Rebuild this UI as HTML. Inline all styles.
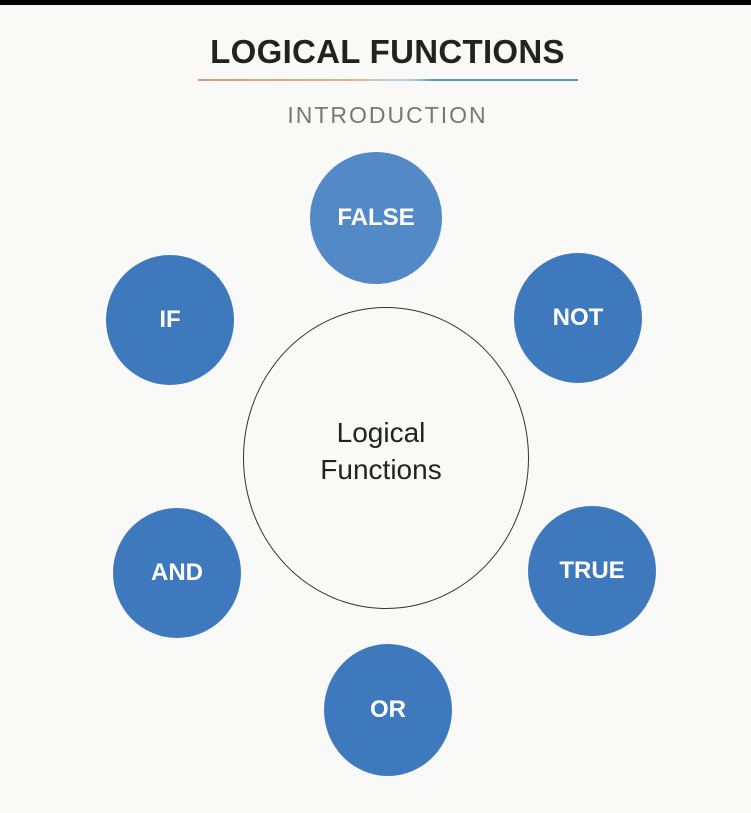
<!DOCTYPE html>
<html><head><style>
body{margin:0;width:751px;height:813px;background:#f9f9f8;overflow:hidden;position:relative;font-family:"Liberation Sans",sans-serif}
.bar{position:absolute;left:0;top:0;width:751px;height:5px;background:#000}
.t{position:absolute;left:0;width:775px;text-align:center}
.c{position:absolute;border-radius:50%;background:#3f79bd;color:#fff;font-weight:bold;font-size:24px;display:flex;align-items:center;justify-content:center}
</style></head><body>
<div class="bar"></div>
<div class="t" style="top:33px;font-size:33px;font-weight:bold;color:#222;letter-spacing:0.3px;">LOGICAL FUNCTIONS</div>
<div style="position:absolute;left:198px;top:79px;width:380px;height:2px;background:linear-gradient(90deg,#d99a7a 0%,#e8b088 40%,#b5cfe0 50%,#b5cfe0 56%,#5b92bf 62%,#5b92bf 100%)"></div>
<div class="t" style="top:102px;font-size:23px;color:#777;letter-spacing:2px;">INTRODUCTION</div>
<div style="position:absolute;left:243px;top:307px;width:286px;height:302px;border:1px solid #333;border-radius:50%;box-sizing:border-box"></div>
<div style="position:absolute;left:231px;top:414px;width:300px;text-align:center;font-size:28px;line-height:37px;color:#222">Logical<br>Functions</div>
<div class="c" style="left:310px;top:152px;width:132px;height:132px;background:#5389c6">FALSE</div>
<div class="c" style="left:514px;top:253px;width:128px;height:130px">NOT</div>
<div class="c" style="left:106px;top:255px;width:128px;height:130px">IF</div>
<div class="c" style="left:113px;top:508px;width:128px;height:130px">AND</div>
<div class="c" style="left:528px;top:506px;width:128px;height:130px">TRUE</div>
<div class="c" style="left:324px;top:644px;width:128px;height:132px">OR</div>
</body></html>
